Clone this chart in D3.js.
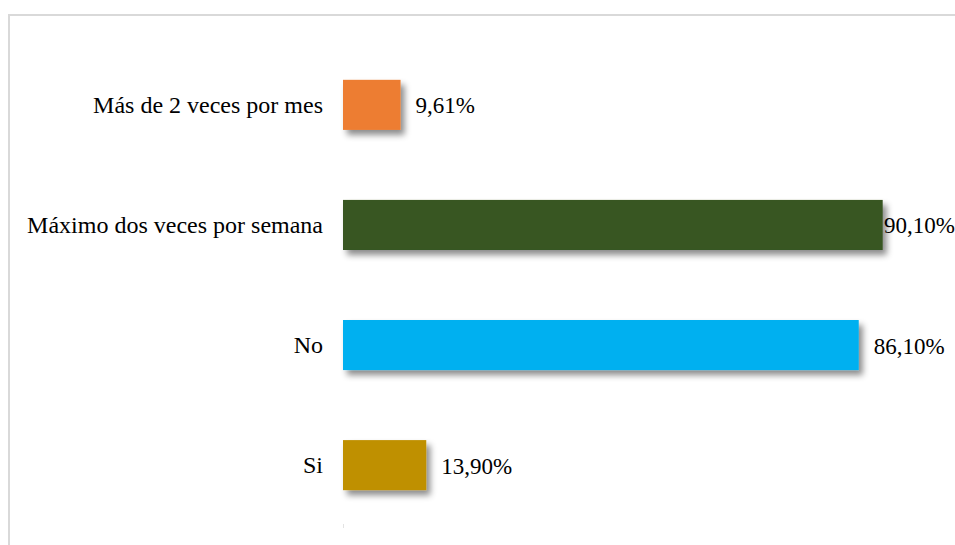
<!DOCTYPE html>
<html>
<head>
<meta charset="utf-8">
<script src="https://cdn.jsdelivr.net/npm/d3@7/dist/d3.min.js"></script>
<style>
  html, body { margin: 0; padding: 0; background: #ffffff; }
  svg { display: block; }
</style>
</head>
<body>
<svg id="chart" width="955" height="545"></svg>
<script>
// Categories from top to bottom, with their percentages and bar colours
const categories = ["Más de 2 veces por mes", "Máximo dos veces por semana", "No", "Si"];
const values = [9.61, 90.10, 86.10, 13.90];
const valueLabels = ["9,61%", "90,10%", "86,10%", "13,90%"];
const colors = ["#ED7D31", "#375623", "#00B0F0", "#BF9000"];

const W = 955, H = 545;
const svg = d3.select("#chart");
const serif = '"Liberation Serif", "Times New Roman", Times, serif';

// Drop shadow used under each bar
const defs = svg.append("defs");
const shadow = defs.append("filter")
  .attr("id", "barShadow")
  .attr("x", "-20%").attr("y", "-30%")
  .attr("width", "160%").attr("height", "180%");
shadow.append("feDropShadow")
  .attr("dx", 4).attr("dy", 5)
  .attr("stdDeviation", 3)
  .attr("flood-color", "#000000")
  .attr("flood-opacity", 0.45);

// Chart frame (runs past the right and bottom edges)
svg.append("rect")
  .attr("x", 9).attr("y", 15)
  .attr("width", 980).attr("height", 560)
  .attr("fill", "none")
  .attr("stroke", "#d9d9d9")
  .attr("stroke-width", 2);

const plotLeft = 343;
const x = d3.scaleLinear().domain([0, 100]).range([plotLeft, plotLeft + 599]);
const y = d3.scaleBand().domain(categories).range([45, 525]).paddingInner(0.583).paddingOuter(0.29);

// Bars
svg.append("g")
  .selectAll("rect")
  .data(categories)
  .join("rect")
  .attr("x", x(0))
  .attr("y", d => y(d))
  .attr("width", (d, i) => x(values[i]) - x(0))
  .attr("height", y.bandwidth())
  .attr("fill", (d, i) => colors[i])
  .attr("filter", "url(#barShadow)");

// Category axis: labels only, no visible line
const axis = svg.append("g")
  .attr("transform", `translate(${x(0)},0)`)
  .call(d3.axisLeft(y).tickSize(0).tickPadding(20));
axis.attr("font-family", null).attr("font-size", null);
axis.select(".domain").remove();
axis.selectAll("text")
  .style("font-family", serif)
  .style("font-size", "24px")
  .attr("fill", "#000000");

// Small remnant of the axis line at the bottom of the plot
svg.append("line")
  .attr("x1", x(0) + 0.5).attr("x2", x(0) + 0.5)
  .attr("y1", 524).attr("y2", 528)
  .attr("stroke", "#e3e3e3")
  .attr("stroke-width", 1);

// Value labels next to each bar, kept inside the chart area
const chartRight = 955;
svg.append("g")
  .selectAll("text")
  .data(categories)
  .join("text")
  .style("font-family", serif)
  .style("font-size", "23px")
  .attr("fill", "#000000")
  .attr("dominant-baseline", "central")
  .attr("y", d => y(d) + y.bandwidth() / 2 + 1)
  .text((d, i) => valueLabels[i])
  .attr("x", function (d, i) {
    const w = this.getComputedTextLength();
    return Math.min(x(values[i]) + 15, chartRight - w);
  });
</script>
</body>
</html>
